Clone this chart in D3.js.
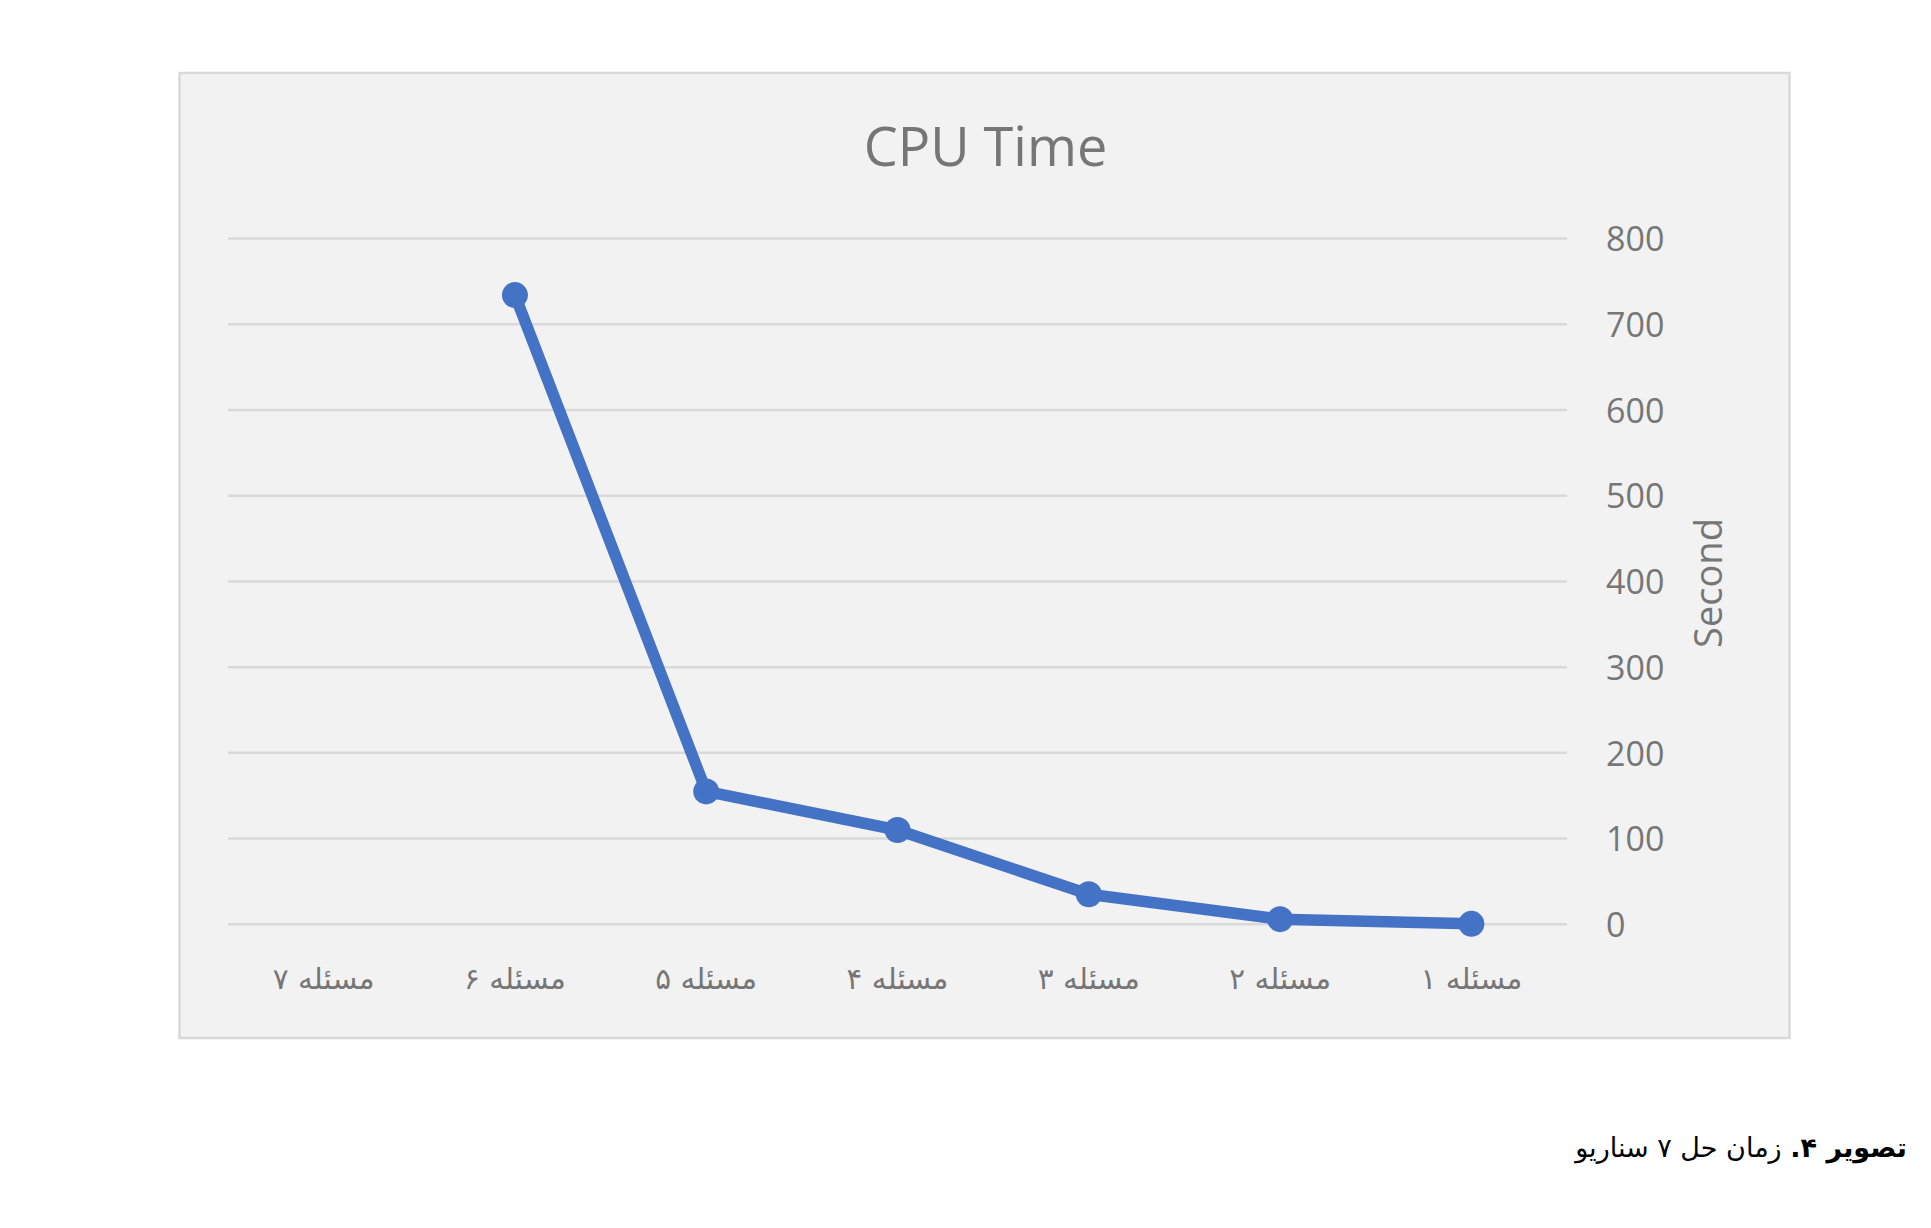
<!DOCTYPE html>
<html><head><meta charset="utf-8">
<script src="https://cdn.jsdelivr.net/npm/d3@7"></script>
<style>body{margin:0;background:#fff}svg{display:block}</style>
</head><body>
<svg id="c" width="1931" height="1228"></svg>
<script>
const categories = ["مسئله ۱","مسئله ۲","مسئله ۳","مسئله ۴","مسئله ۵","مسئله ۶","مسئله ۷"];
const cpuSeconds = [0.5, 6, 35, 110, 155, 734, null];
const yTicks = [0,100,200,300,400,500,600,700,800];
const chartTitle = "CPU Time";
const yAxisTitle = "Second";
const captionBold = "تصویر ۴.";
const captionRest = " زمان حل ۷ سناریو";

const svg = d3.select("#c");
const grey = "#767676";
svg.append("rect").attr("x",179.5).attr("y",73).attr("width",1610).attr("height",965)
  .attr("fill","#f2f2f2").attr("stroke","#d9d9d9").attr("stroke-width",2.5);

const x = d3.scaleBand().domain(categories).range([1567,228]);
const y = d3.scaleLinear().domain([0,800]).range([924.3,238.5]);

// gridlines
svg.append("g").selectAll("line").data(yTicks).join("line")
  .attr("x1",228).attr("x2",1567).attr("y1",d=>y(d)).attr("y2",d=>y(d))
  .attr("stroke","#d9d9d9").attr("stroke-width",2.5);

// y axis labels (right side)
const yAxis = d3.axisRight(y).tickValues(yTicks).tickSize(0).tickPadding(0);
const ga = svg.append("g").attr("transform","translate(1606,0)").call(yAxis);
ga.select(".domain").remove();
ga.selectAll("text").attr("font-family","'Open Sans'").attr("font-size",34).attr("fill",grey).attr("dy","0.36em").attr("x",0);

// x axis labels
const xAxis = d3.axisBottom(x).tickSize(0).tickPadding(0);
const gx = svg.append("g").attr("transform","translate(0,989)").call(xAxis);
gx.select(".domain").remove();
gx.selectAll("text").attr("font-family","'DejaVu Sans'").attr("font-size",29.5).attr("fill",grey)
  .attr("dy",0).attr("y",0).attr("direction","rtl");

// title
svg.append("text").attr("x",985.5).attr("y",166).attr("text-anchor","middle")
  .attr("font-family","'Open Sans'").attr("font-size",54).attr("fill",grey).text(chartTitle);

// y axis title
svg.append("text").attr("transform","translate(1722,583) rotate(-90)").attr("text-anchor","middle")
  .attr("font-family","'Open Sans'").attr("font-size",38).attr("fill",grey).text(yAxisTitle);

// line
const pts = categories.map((c,i)=>({c, v:cpuSeconds[i]}));
const line = d3.line().defined(d=>d.v!=null).x(d=>x(d.c)+x.bandwidth()/2).y(d=>y(d.v));
svg.append("path").datum(pts).attr("d",line).attr("fill","none")
  .attr("stroke","#4472c4").attr("stroke-width",11.5).attr("stroke-linejoin","round").attr("stroke-linecap","round");
svg.append("g").selectAll("circle").data(pts.filter(d=>d.v!=null)).join("circle")
  .attr("cx",d=>x(d.c)+x.bandwidth()/2).attr("cy",d=>y(d.v)).attr("r",13).attr("fill","#4472c4");

// caption
const cap = svg.append("text").attr("x",1907).attr("y",1157).attr("direction","rtl").attr("text-anchor","start")
  .attr("font-family","'DejaVu Sans'").attr("font-size",27).attr("fill","#000");
cap.append("tspan").attr("font-weight","bold").text(captionBold);
cap.append("tspan").text(captionRest);
</script>
</body></html>
